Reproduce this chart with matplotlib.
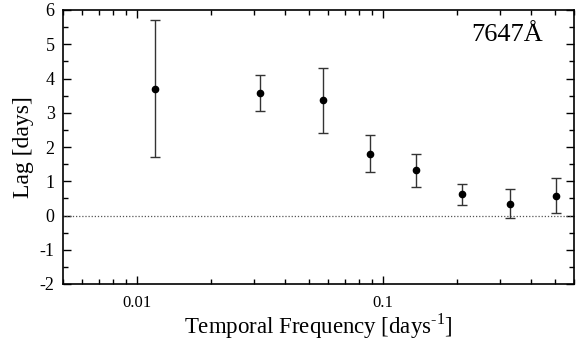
import matplotlib
matplotlib.use('Agg')
import matplotlib.pyplot as plt
from matplotlib.ticker import MultipleLocator, FixedLocator, LogLocator, NullFormatter

plt.rcParams['font.family'] = ['Liberation Serif', 'DejaVu Serif']
plt.rcParams['mathtext.fontset'] = 'custom'
plt.rcParams['mathtext.rm'] = 'Liberation Serif'
plt.rcParams['axes.unicode_minus'] = False

# lag vs temporal frequency
freq = [0.0118, 0.0316, 0.057, 0.0885, 0.137, 0.211, 0.328, 0.509]
lag = [3.70, 3.57, 3.37, 1.80, 1.32, 0.62, 0.35, 0.58]
err_lo = [1.98, 0.52, 0.95, 0.52, 0.49, 0.30, 0.43, 0.51]
err_hi = [2.02, 0.53, 0.93, 0.55, 0.48, 0.30, 0.41, 0.52]
xticks = [0.01, 0.1]
xtick_labels = ['0.01', '0.1']
yticks = list(range(-2, 7))
ytick_labels = [str(v) for v in yticks]

fig = plt.figure(figsize=(5.8, 3.43), dpi=100)
ax = fig.add_axes([63/580, 1 - 284/343, (574-63)/580, (284-10)/343])

ax.axhline(0, color='#555555', lw=0.9, ls=(0, (1, 1.5)))
ax.errorbar(freq, lag, yerr=[err_lo, err_hi], fmt='o', color='black',
            ms=4.5, ecolor='#333333', elinewidth=1, capsize=3.5, capthick=1)

ax.set_xscale('log')
ax.set_xlim(0.005, 0.6)
ax.set_ylim(-2, 6)
ax.xaxis.set_major_locator(FixedLocator(xticks))
ax.set_xticklabels(xtick_labels)
ax.xaxis.set_minor_locator(LogLocator(base=10, subs=range(2, 10)))
ax.xaxis.set_minor_formatter(NullFormatter())
ax.set_yticks(yticks)
ax.set_yticklabels(ytick_labels)
ax.yaxis.set_minor_locator(MultipleLocator(0.5))

ax.tick_params(which='both', direction='in', top=True, right=True)
ax.tick_params(axis='x', labelsize=12, pad=8)
ax.tick_params(axis='y', labelsize=13, pad=6)
ax.tick_params(which='major', length=6, width=1)
ax.tick_params(which='minor', length=3.5, width=1)
for s in ax.spines.values():
    s.set_linewidth(1.2)

ax.set_xlabel('Temporal Frequency [days$^{\\text{-1}}$]', fontsize=16.5, labelpad=0)
ax.set_ylabel('Lag [days]', fontsize=17, labelpad=4)
ax.text(0.94, 0.95, '7647Å', transform=ax.transAxes, ha='right', va='top', fontsize=19)

fig.savefig('out.png', dpi=100)
